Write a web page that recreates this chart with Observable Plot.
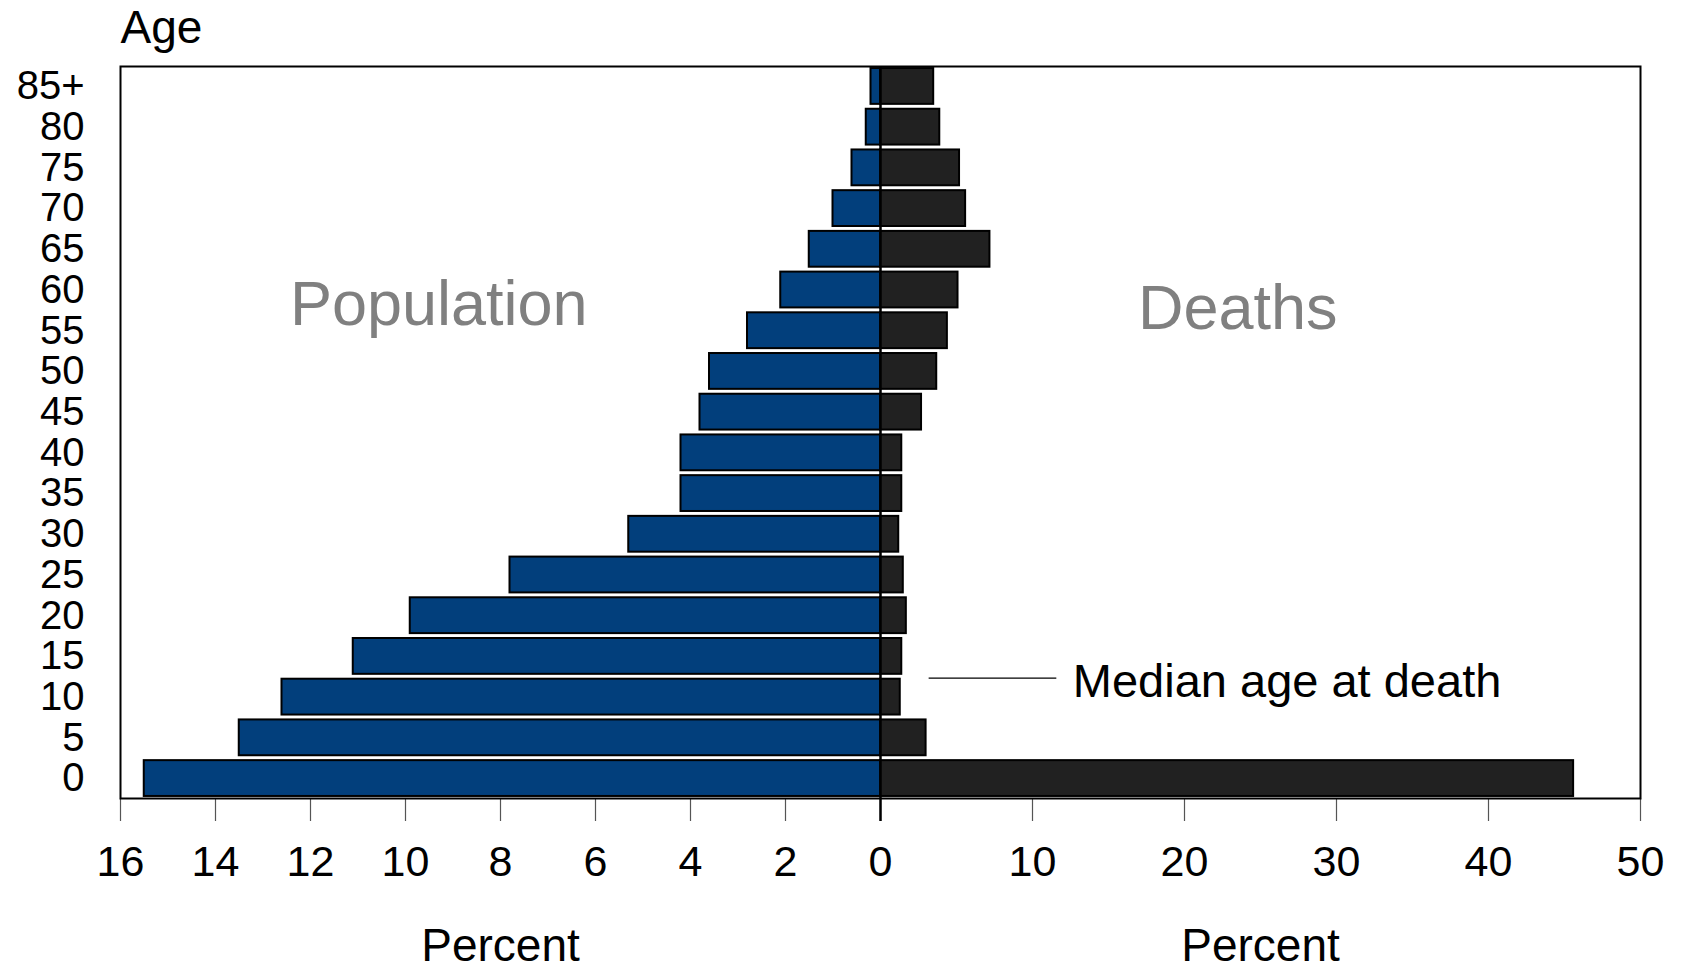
<!DOCTYPE html>
<html>
<head>
<meta charset="utf-8">
<script src="https://cdn.jsdelivr.net/npm/d3@7"></script>
<script src="https://cdn.jsdelivr.net/npm/@observablehq/plot@0.6"></script>
<style>
  html, body { margin: 0; padding: 0; background: #fff; }
  #chart { width: 1681px; height: 970px; }
</style>
</head>
<body>
<div id="chart"></div>
<script>
// Age groups (bottom to top)
const ageGroups = ["0","5","10","15","20","25","30","35","40","45","50","55","60","65","70","75","80","85+"];
// Percent of population in each age group
const population = [15.5, 13.5, 12.6, 11.1, 9.9, 7.8, 5.3, 4.2, 4.2, 3.8, 3.6, 2.8, 2.1, 1.5, 1.0, 0.6, 0.3, 0.2];
// Percent of deaths in each age group
const deaths = [45.6, 3.0, 1.3, 1.4, 1.7, 1.5, 1.2, 1.4, 1.4, 2.7, 3.7, 4.4, 5.1, 7.2, 5.6, 5.2, 3.9, 3.5];
// Axis tick values
const popTicks = [16, 14, 12, 10, 8, 6, 4, 2, 0];
const deathTicks = [10, 20, 30, 40, 50];
const popMax = 16, deathMax = 50;
// Text labels
const yAxisTitle = "Age";
const xAxisTitle = "Percent";
const panelNames = ["Population", "Deaths"];
const medianLabel = "Median age at death";
const medianGroup = "10";

const rows = ageGroups.map((age, i) => ({age, population: population[i], deaths: deaths[i]}));
// left half of the x scale shows population percent (0..16), right half deaths percent (0..50)
const k = deathMax / popMax;
const toX = v => v < 0 ? v * k : v;
const fromX = v => v < 0 ? -v / k : v;
const axisTicks = [...popTicks.map(t => toX(-t)), ...deathTicks];
const font = "'Liberation Sans', Arial, Helvetica, sans-serif";

const W = 1681, H = 970;
const mL = 120, mR = 41, mT = 66, mB = 172;

const chart = Plot.plot({
  width: W,
  height: H,
  marginLeft: mL,
  marginRight: mR,
  marginTop: mT,
  marginBottom: mB,
  style: {fontFamily: font, background: "#fff", color: "#000"},
  x: {transform: toX, domain: [-deathMax, deathMax], axis: null},
  y: {domain: [...ageGroups].reverse(), paddingInner: 0.12, paddingOuter: 0.05, round: false, axis: null},
  marks: [
    Plot.barX(rows, {y: "age", x1: 0, x2: d => -d.population, fill: "#023f7c", stroke: "#000", strokeWidth: 2}),
    Plot.barX(rows, {y: "age", x1: 0, x2: "deaths", fill: "#212121", stroke: "#000", strokeWidth: 2}),
    Plot.axisX({ticks: axisTicks, tickFormat: d => Math.abs(Math.round(fromX(d))), tickSize: 23, tickPadding: 24, fontSize: 43, stroke: "#555", strokeWidth: 1.2, label: null, fill: "#000"}),
    Plot.axisY({tickSize: 0, tickPadding: 36, fontSize: 40, label: null, fill: "#000"}),
    Plot.ruleX([0], {stroke: "#000", strokeWidth: 2.5, insetBottom: -23}),
    Plot.frame({stroke: "#000", strokeWidth: 2}),
    Plot.text([yAxisTitle], {text: d => d, frameAnchor: "top-left", textAnchor: "start", lineAnchor: "bottom", dy: -24, fontSize: 46, fill: "#000"}),
    Plot.text([-popMax / 2, deathMax / 2], {x: d => d, text: () => xAxisTitle, frameAnchor: "bottom", lineAnchor: "bottom", dy: 162, fontSize: 46, fill: "#000"}),
    Plot.text([panelNames[0]], {text: d => d, x: () => -9.3, y: () => "60", dy: 14.5, fontSize: 63, fill: "#808080"}),
    Plot.text([panelNames[1]], {text: d => d, x: () => 23.5, y: () => "60", dy: 19, fontSize: 63, fill: "#808080"}),
    Plot.ruleY([medianGroup], {x1: 3.2, x2: 11.6, dy: -19, stroke: "#000", strokeWidth: 1.3}),
    Plot.text([medianLabel], {text: d => d, x: () => 12.65, y: () => medianGroup, dy: -15, textAnchor: "start", fontSize: 47, fill: "#000"})
  ]
});
document.getElementById("chart").appendChild(chart);
</script>
</body>
</html>
